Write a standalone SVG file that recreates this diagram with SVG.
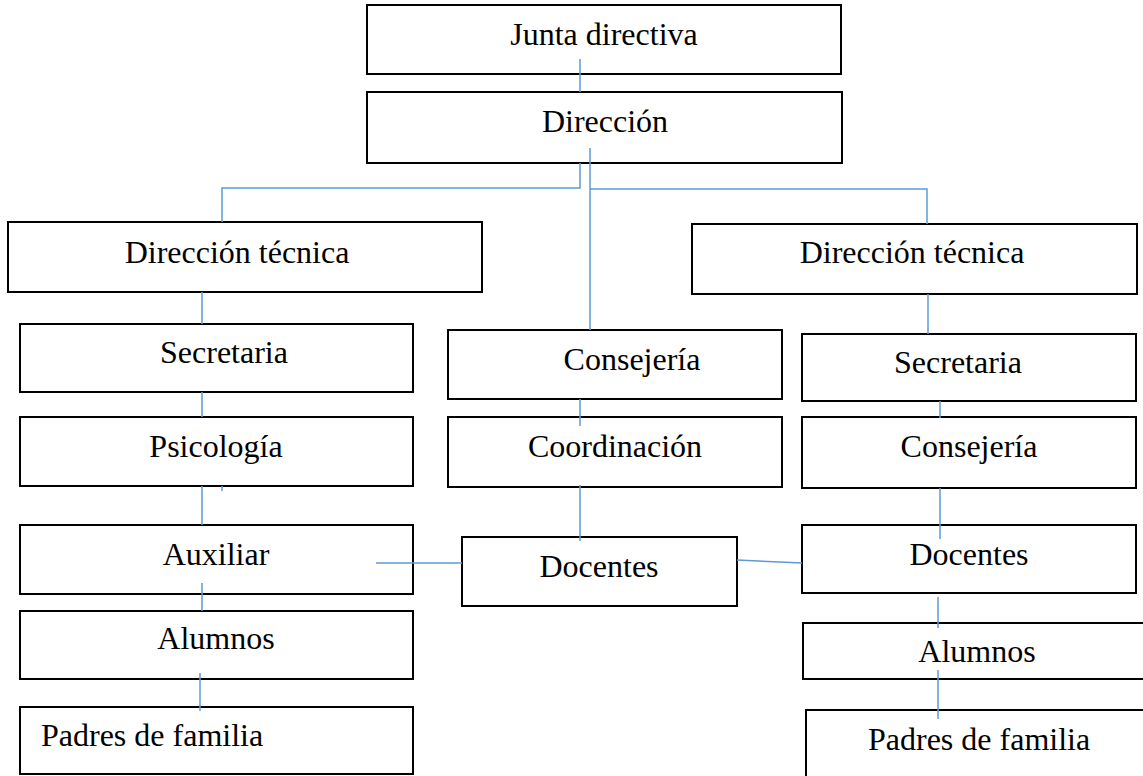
<svg xmlns="http://www.w3.org/2000/svg" width="1143" height="776" viewBox="0 0 1143 776">
<style>
.box{fill:#fff;stroke:#000;stroke-width:2}
.t{font-family:"Liberation Serif","Times New Roman",serif;font-size:32px;fill:#000;text-anchor:middle}
.ts{font-family:"Liberation Serif","Times New Roman",serif;font-size:32px;fill:#000}
.c{stroke:#5B9BD5;stroke-width:1.5;fill:none}
</style>
<rect width="1143" height="776" fill="#fff"/>
<g id="n-junta"><rect class="box" x="367" y="5" width="474" height="69"/><text class="t" x="604" y="45">Junta directiva</text></g>
<g id="n-direccion"><rect class="box" x="367" y="92" width="475" height="71" stroke-width="2.5"/><text class="t" x="605" y="132">Dirección</text></g>
<g id="n-dt-left"><rect class="box" x="8" y="222" width="474" height="70"/><text class="t" x="237" y="263">Dirección técnica</text></g>
<g id="n-dt-right"><rect class="box" x="692" y="224" width="445" height="70"/><text class="t" x="912" y="263">Dirección técnica</text></g>
<g id="n-sec-left"><rect class="box" x="20" y="324" width="393" height="68"/><text class="t" x="224" y="363">Secretaria</text></g>
<g id="n-psi-left"><rect class="box" x="20" y="417" width="393" height="69"/><text class="t" x="216" y="457">Psicología</text></g>
<g id="n-aux-left"><rect class="box" x="20" y="525" width="393" height="69"/><text class="t" x="216" y="565">Auxiliar</text></g>
<g id="n-alu-left"><rect class="box" x="20" y="611" width="393" height="68"/><text class="t" x="216" y="649">Alumnos</text></g>
<g id="n-pad-left"><rect class="box" x="20" y="707" width="393" height="67"/><text class="ts" x="41" y="746">Padres de familia</text></g>
<g id="n-con-mid"><rect class="box" x="448" y="330" width="334" height="69"/><text class="t" x="632" y="370">Consejería</text></g>
<g id="n-coo-mid"><rect class="box" x="448" y="417" width="334" height="70"/><text class="t" x="615" y="457">Coordinación</text></g>
<g id="n-doc-mid"><rect class="box" x="462" y="537" width="275" height="69"/><text class="t" x="599" y="577">Docentes</text></g>
<g id="n-sec-right"><rect class="box" x="802" y="334" width="334" height="67"/><text class="t" x="958" y="373">Secretaria</text></g>
<g id="n-con-right"><rect class="box" x="802" y="417" width="334" height="71"/><text class="t" x="969" y="457">Consejería</text></g>
<g id="n-doc-right"><rect class="box" x="802" y="525" width="334" height="68"/><text class="t" x="969" y="565">Docentes</text></g>
<g id="n-alu-right"><rect class="box" x="803" y="623" width="350" height="56"/><text class="t" x="977" y="662">Alumnos</text></g>
<g id="n-pad-right"><rect class="box" x="806" y="710" width="350" height="80"/><text class="ts" x="868" y="750">Padres de familia</text></g>
<g id="connectors">
<line class="c" x1="580" y1="59" x2="580" y2="92"/>
<polyline class="c" points="580,163 580,188 222,188 222,222"/>
<line class="c" x1="590" y1="148" x2="590" y2="330"/>
<polyline class="c" points="590,189 927,189 927,224"/>
<line class="c" x1="202" y1="292" x2="202" y2="324"/>
<line class="c" x1="202" y1="392" x2="202" y2="417"/>
<line class="c" x1="202" y1="486" x2="202" y2="525"/>
<line class="c" x1="222" y1="486" x2="222" y2="491"/>
<line class="c" x1="202" y1="583" x2="202" y2="611"/>
<line class="c" x1="200" y1="673" x2="200" y2="711"/>
<line class="c" x1="376" y1="563" x2="462" y2="563"/>
<line class="c" x1="580" y1="399" x2="580" y2="426"/>
<line class="c" x1="580" y1="485" x2="580" y2="541"/>
<line class="c" x1="737" y1="560" x2="802" y2="563"/>
<line class="c" x1="928" y1="294" x2="928" y2="334"/>
<line class="c" x1="940" y1="401" x2="940" y2="418"/>
<line class="c" x1="940" y1="488" x2="940" y2="539"/>
<line class="c" x1="938" y1="597" x2="938" y2="628"/>
<line class="c" x1="938" y1="670" x2="938" y2="719"/>
</g>
</svg>
